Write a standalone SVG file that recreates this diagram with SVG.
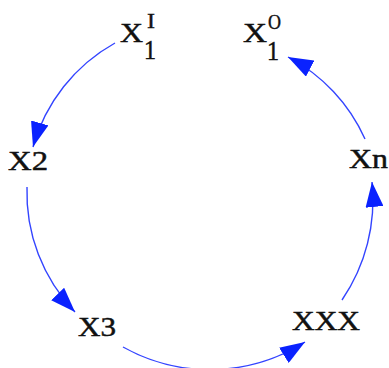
<svg xmlns="http://www.w3.org/2000/svg" width="389" height="368" viewBox="0 0 389 368">
<style>
.lbl{font-family:"Liberation Serif","Times New Roman",serif;font-size:28px;fill:#111;stroke:#111;stroke-width:0.5;}
.sub{font-family:"Liberation Serif","Times New Roman",serif;font-size:27px;fill:#111;stroke:#111;stroke-width:0.5;}
.sup{font-family:"Liberation Serif","Times New Roman",serif;font-size:21px;fill:#111;stroke:#111;stroke-width:0.4;}
.edge{fill:none;stroke:#3344ff;stroke-width:1.4;}
</style>
<defs>
<marker id="ah" markerUnits="userSpaceOnUse" markerWidth="26" markerHeight="18" refX="25" refY="9" orient="auto">
<path d="M0,0 L25,9 L0,18 z" fill="#0a22ff"/>
</marker>
</defs>
<rect width="389" height="368" fill="#fff"/>
<g id="connectors">
<path class="edge" d="M115,43 A172,172 0 0 0 33,147" marker-end="url(#ah)"/>
<path class="edge" d="M27,187 A172,172 0 0 0 75,312" marker-end="url(#ah)"/>
<path class="edge" d="M123,347 A178,178 0 0 0 305,342" marker-end="url(#ah)"/>
<path class="edge" d="M342,300 A177,177 0 0 0 372,182" marker-end="url(#ah)"/>
<path class="edge" d="M365,139 A172,172 0 0 0 288,57" marker-end="url(#ah)"/>
</g>
<g id="x1i">
<text class="lbl" x="120" y="42" textLength="23" lengthAdjust="spacingAndGlyphs">X</text>
<text class="sup" x="147" y="28" textLength="8" lengthAdjust="spacingAndGlyphs">I</text>
<text class="sub" x="144" y="59" textLength="12" lengthAdjust="spacingAndGlyphs">1</text>
</g>
<g id="x1o">
<text class="lbl" x="243" y="42" textLength="24" lengthAdjust="spacingAndGlyphs">X</text>
<text class="sup" x="268" y="29" textLength="13" lengthAdjust="spacingAndGlyphs">O</text>
<text class="sub" x="267" y="60" textLength="12" lengthAdjust="spacingAndGlyphs">1</text>
</g>
<g id="x2">
<text class="lbl" x="8" y="170" textLength="40" lengthAdjust="spacingAndGlyphs">X2</text>
</g>
<g id="x3">
<text class="lbl" x="78" y="336" textLength="38" lengthAdjust="spacingAndGlyphs">X3</text>
</g>
<g id="xxx">
<text class="lbl" x="292" y="330" textLength="68" lengthAdjust="spacingAndGlyphs">XXX</text>
</g>
<g id="xn">
<text class="lbl" x="349" y="168" textLength="39" lengthAdjust="spacingAndGlyphs">Xn</text>
</g>
</svg>
